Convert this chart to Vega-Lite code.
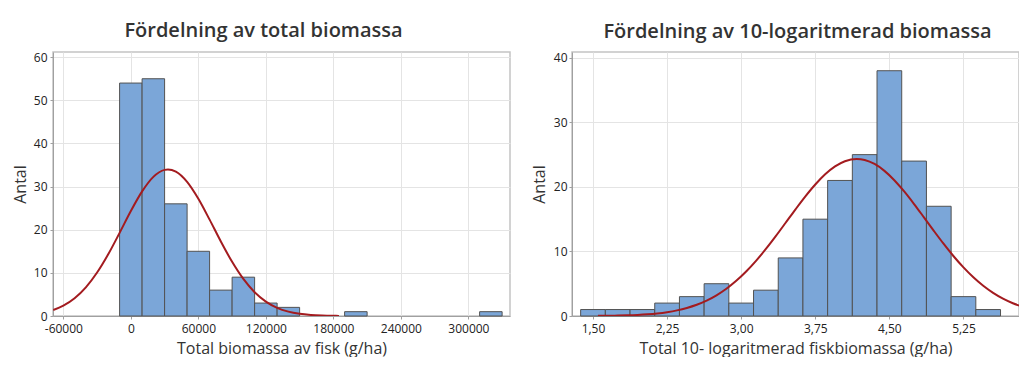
{
  "$schema": "https://vega.github.io/schema/vega-lite/v6.json",
  "background": "white",
  "padding": {"left": 11, "top": 20, "right": 0, "bottom": 0},
  "spacing": 62,
  "bounds": "flush",
  "config": {
    "font": "Open Sans",
    "view": {"stroke": "#c4c4c4", "strokeWidth": 1.5},
    "axis": {
      "labelFont": "Open Sans", "labelFontSize": 12, "labelColor": "#222222",
      "titleFont": "Open Sans", "titleFontSize": 16, "titleFontWeight": "normal", "titleColor": "#333333",
      "domainColor": "#a0a0a0", "tickColor": "#a0a0a0", "tickSize": 3, "labelPadding": 2,
      "grid": true, "gridColor": "#e4e4e4"
    },
    "title": {"font": "Open Sans", "fontSize": 20, "fontWeight": 600, "color": "#333333", "anchor": "middle", "frame": "group", "offset": 10}
  },
  "datasets": {
    "bars1": [
      {"lo": -10000, "hi": 10000, "count": 54},
      {"lo": 10000, "hi": 30000, "count": 55},
      {"lo": 30000, "hi": 50000, "count": 26},
      {"lo": 50000, "hi": 70000, "count": 15},
      {"lo": 70000, "hi": 90000, "count": 6},
      {"lo": 90000, "hi": 110000, "count": 9},
      {"lo": 110000, "hi": 130000, "count": 3},
      {"lo": 130000, "hi": 150000, "count": 2},
      {"lo": 190000, "hi": 210000, "count": 1},
      {"lo": 310000, "hi": 330000, "count": 1}
    ],
    "curve1": [
      {"x": -69000, "y": 1.403}, {"x": -60000, "y": 2.401}, {"x": -50000, "y": 4.116},
      {"x": -40000, "y": 6.639}, {"x": -30000, "y": 10.071}, {"x": -20000, "y": 14.367},
      {"x": -10000, "y": 19.278}, {"x": 0, "y": 24.334}, {"x": 10000, "y": 28.887},
      {"x": 20000, "y": 32.256}, {"x": 30000, "y": 33.877}, {"x": 33000, "y": 33.97},
      {"x": 40000, "y": 33.464}, {"x": 50000, "y": 31.092}, {"x": 60000, "y": 27.172},
      {"x": 70000, "y": 22.334}, {"x": 80000, "y": 17.267}, {"x": 90000, "y": 12.556},
      {"x": 100000, "y": 8.587}, {"x": 110000, "y": 5.524}, {"x": 120000, "y": 3.342},
      {"x": 130000, "y": 1.903}, {"x": 140000, "y": 1.019}, {"x": 150000, "y": 0.513},
      {"x": 160000, "y": 0.243}, {"x": 170000, "y": 0.108}, {"x": 180000, "y": 0.045},
      {"x": 185000, "y": 0.029}
    ],
    "bars2": [
      {"lo": 1.375, "hi": 1.625, "count": 1},
      {"lo": 1.625, "hi": 1.875, "count": 1},
      {"lo": 1.875, "hi": 2.125, "count": 1},
      {"lo": 2.125, "hi": 2.375, "count": 2},
      {"lo": 2.375, "hi": 2.625, "count": 3},
      {"lo": 2.625, "hi": 2.875, "count": 5},
      {"lo": 2.875, "hi": 3.125, "count": 2},
      {"lo": 3.125, "hi": 3.375, "count": 4},
      {"lo": 3.375, "hi": 3.625, "count": 9},
      {"lo": 3.625, "hi": 3.875, "count": 15},
      {"lo": 3.875, "hi": 4.125, "count": 21},
      {"lo": 4.125, "hi": 4.375, "count": 25},
      {"lo": 4.375, "hi": 4.625, "count": 38},
      {"lo": 4.625, "hi": 4.875, "count": 24},
      {"lo": 4.875, "hi": 5.125, "count": 17},
      {"lo": 5.125, "hi": 5.375, "count": 3},
      {"lo": 5.375, "hi": 5.625, "count": 1}
    ],
    "curve2": [
      {"x": 1.55, "y": 0.024}, {"x": 1.65, "y": 0.041}, {"x": 1.75, "y": 0.067},
      {"x": 1.85, "y": 0.108}, {"x": 1.95, "y": 0.171}, {"x": 2.05, "y": 0.265},
      {"x": 2.15, "y": 0.401}, {"x": 2.25, "y": 0.597}, {"x": 2.35, "y": 0.869},
      {"x": 2.45, "y": 1.241}, {"x": 2.55, "y": 1.736}, {"x": 2.65, "y": 2.38},
      {"x": 2.75, "y": 3.2}, {"x": 2.85, "y": 4.216}, {"x": 2.95, "y": 5.444},
      {"x": 3.05, "y": 6.888}, {"x": 3.15, "y": 8.543}, {"x": 3.25, "y": 10.384},
      {"x": 3.35, "y": 12.371}, {"x": 3.45, "y": 14.443}, {"x": 3.55, "y": 16.527},
      {"x": 3.65, "y": 18.535}, {"x": 3.75, "y": 20.374}, {"x": 3.85, "y": 21.949},
      {"x": 3.95, "y": 23.174}, {"x": 4.05, "y": 23.98}, {"x": 4.17, "y": 24.33},
      {"x": 4.25, "y": 24.174}, {"x": 4.35, "y": 23.55}, {"x": 4.45, "y": 22.485},
      {"x": 4.55, "y": 21.04}, {"x": 4.65, "y": 19.297}, {"x": 4.75, "y": 17.345},
      {"x": 4.85, "y": 15.28}, {"x": 4.95, "y": 13.193}, {"x": 5.05, "y": 11.164},
      {"x": 5.15, "y": 9.259}, {"x": 5.25, "y": 7.526}, {"x": 5.35, "y": 5.996},
      {"x": 5.45, "y": 4.681}, {"x": 5.55, "y": 3.582}, {"x": 5.65, "y": 2.686},
      {"x": 5.75, "y": 1.975}, {"x": 5.85, "y": 1.423}
    ]
  },
  "hconcat": [
    {
      "title": {"text": "Fördelning av total biomassa", "dx": -18},
      "width": 457,
      "height": 264,
      "layer": [
        {
          "data": {"name": "bars1"},
          "mark": {"type": "rect", "fill": "#7ba6d8", "stroke": "#525252", "strokeWidth": 1},
          "encoding": {
            "x": {"field": "lo", "type": "quantitative",
                  "scale": {"domain": [-69200, 337000], "nice": false, "zero": false},
                  "axis": {"title": "Total biomassa av fisk (g/ha)", "values": [-60000, 0, 60000, 120000, 180000, 240000, 300000], "labelExpr": "toString(datum.value)", "labelPadding": 4, "titlePadding": 6}},
            "x2": {"field": "hi"},
            "y": {"field": "count", "type": "quantitative",
                  "scale": {"domain": [0, 61.2], "nice": false},
                  "axis": {"title": "Antal", "values": [0, 10, 20, 30, 40, 50, 60], "labelPadding": 3, "titlePadding": 5}},
            "y2": {"datum": 0}
          }
        },
        {
          "data": {"name": "curve1"},
          "mark": {"type": "line", "color": "#a31b1f", "strokeWidth": 2, "clip": true, "interpolate": "monotone"},
          "encoding": {
            "x": {"field": "x", "type": "quantitative"},
            "y": {"field": "y", "type": "quantitative"}
          }
        }
      ]
    },
    {
      "title": {"text": "Fördelning av 10-logaritmerad biomassa", "dx": 2},
      "width": 447,
      "height": 264,
      "layer": [
        {
          "data": {"name": "bars2"},
          "mark": {"type": "rect", "fill": "#7ba6d8", "stroke": "#525252", "strokeWidth": 1},
          "encoding": {
            "x": {"field": "lo", "type": "quantitative",
                  "scale": {"domain": [1.2875, 5.812], "nice": false, "zero": false},
                  "axis": {"title": "Total 10- logaritmerad fiskbiomassa (g/ha)", "values": [1.5, 2.25, 3, 3.75, 4.5, 5.25], "labelExpr": "replace(format(datum.value, '.2f'), '.', ',')", "labelPadding": 4, "titlePadding": 6}},
            "x2": {"field": "hi"},
            "y": {"field": "count", "type": "quantitative",
                  "scale": {"domain": [0, 40.9], "nice": false},
                  "axis": {"title": "Antal", "values": [0, 10, 20, 30, 40], "titlePadding": 6}},
            "y2": {"datum": 0}
          }
        },
        {
          "data": {"name": "curve2"},
          "mark": {"type": "line", "color": "#a31b1f", "strokeWidth": 2, "clip": true, "interpolate": "monotone"},
          "encoding": {
            "x": {"field": "x", "type": "quantitative"},
            "y": {"field": "y", "type": "quantitative"}
          }
        }
      ]
    }
  ]
}
